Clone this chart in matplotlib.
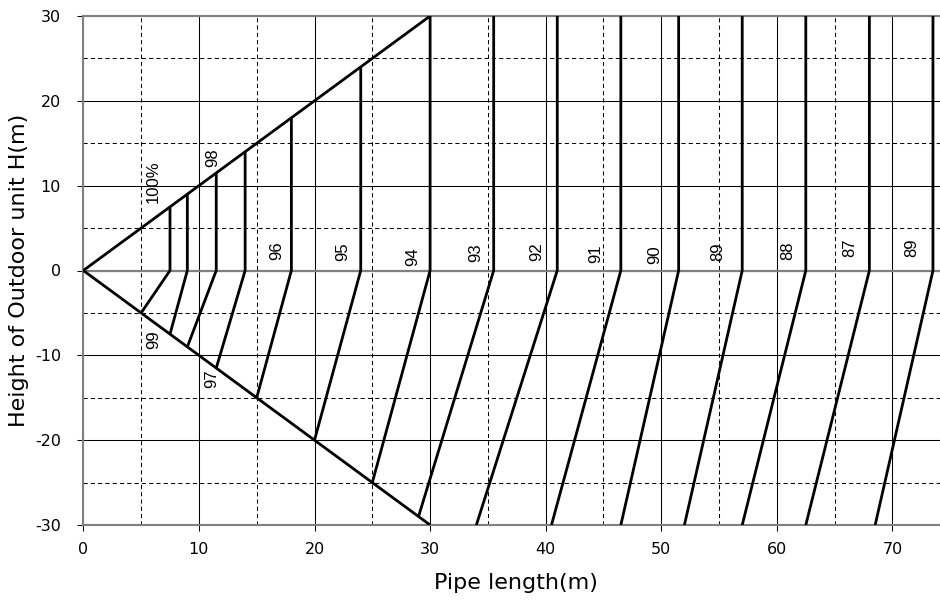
import matplotlib
matplotlib.use("Agg")
import matplotlib.pyplot as plt
from matplotlib.ticker import MultipleLocator

# ---- data ----
upper_boundary_x = [0, 30]
upper_boundary_y = [0, 30]
lower_boundary_x = [0, 30]
lower_boundary_y = [0, -30]

top_x = [7.5, 9, 11.5, 14, 18, 24, 30, 35.5, 41, 46.5, 51.5, 57, 62.5, 68, 73.5]
top_y = [7.5, 9, 11.5, 14, 18, 24, 30, 30, 30, 30, 30, 30, 30, 30, 30]
bottom_x = [5, 7.5, 9, 11.5, 15, 20, 25, 29, 34, 40.5, 46.5, 52, 57, 62.5, 68.5]
bottom_y = [-5, -7.5, -9, -11.5, -15, -20, -25, -29, -30, -30, -30, -30, -30, -30, -30]

labels = ["100%", "99", "98", "97", "96", "95", "94", "93", "92", "91",
          "90", "89", "88", "87", "89"]
label_x = [6.06, 6.06, 11.16, 11.1, 16.76, 22.44, 28.48, 33.96, 39.22, 44.34,
           49.45, 54.86, 60.92, 66.32, 71.66]
label_y = [10.45, -8.2, 13.25, -12.8, 2.37, 2.18, 1.68, 2.08, 2.2, 1.98,
           1.82, 2.27, 2.3, 2.67, 2.67]

x_ticks = [0, 10, 20, 30, 40, 50, 60, 70]
y_ticks = [-30, -20, -10, 0, 10, 20, 30]

# ---- figure ----
plt.rcParams["font.family"] = ["DejaVu Sans"]
plt.rcParams["axes.unicode_minus"] = False
fig = plt.figure(figsize=(9.4, 6.03), dpi=100)
W, H = 940, 603
left_px, right_px, top_px, bot_px = 83.3, 950.3, 16, 525
ax = fig.add_axes([left_px / W, 1 - bot_px / H, (right_px - left_px) / W, (bot_px - top_px) / H])

ax.set_xlim(0, 75)
ax.set_ylim(-30, 30)
ax.set_xticks(x_ticks)
ax.set_yticks(y_ticks)
ax.xaxis.set_minor_locator(MultipleLocator(5))
ax.yaxis.set_minor_locator(MultipleLocator(5))

ax.grid(which="major", color="black", lw=0.75, zorder=0)
ax.grid(which="minor", color="black", lw=0.75, dashes=(4, 3), zorder=0)
ax.tick_params(which="minor", length=0)
ax.tick_params(which="major", direction="out", length=4, width=0.75, color="black",
               labelsize=11.5, pad=12)
ax.tick_params(axis="x", pad=8)
for s in ax.spines.values():
    s.set_color("#808080")
    s.set_linewidth(1.5)
ax.axhline(0, color="#808080", lw=1.6, zorder=1)
ax.set_axisbelow(True)

# boundaries
ax.plot(upper_boundary_x, upper_boundary_y, color="black", lw=2, solid_capstyle="butt", zorder=3)
ax.plot(lower_boundary_x, lower_boundary_y, color="black", lw=2, solid_capstyle="butt", zorder=3)

# efficiency curves
for bx, by, tx, ty in zip(bottom_x, bottom_y, top_x, top_y):
    ax.plot([bx, tx, tx], [by, 0, ty], color="black", lw=2, solid_capstyle="butt",
            solid_joinstyle="miter", zorder=3)

for t, lx, ly in zip(labels, label_x, label_y):
    ax.text(lx, ly, t, rotation=90, ha="center", va="center", fontsize=12,
            family=["Liberation Sans", "DejaVu Sans"], zorder=4)

ax.set_xlabel("Pipe length(m)", fontsize=16)
ax.set_ylabel("Height of Outdoor unit H(m)", fontsize=16)
ax.xaxis.set_label_coords((516 - left_px) / (right_px - left_px), (bot_px - 573) / (bot_px - top_px))
ax.yaxis.set_label_coords((29 - left_px) / (right_px - left_px), 0.5)

fig.savefig("out.png", dpi=100)
